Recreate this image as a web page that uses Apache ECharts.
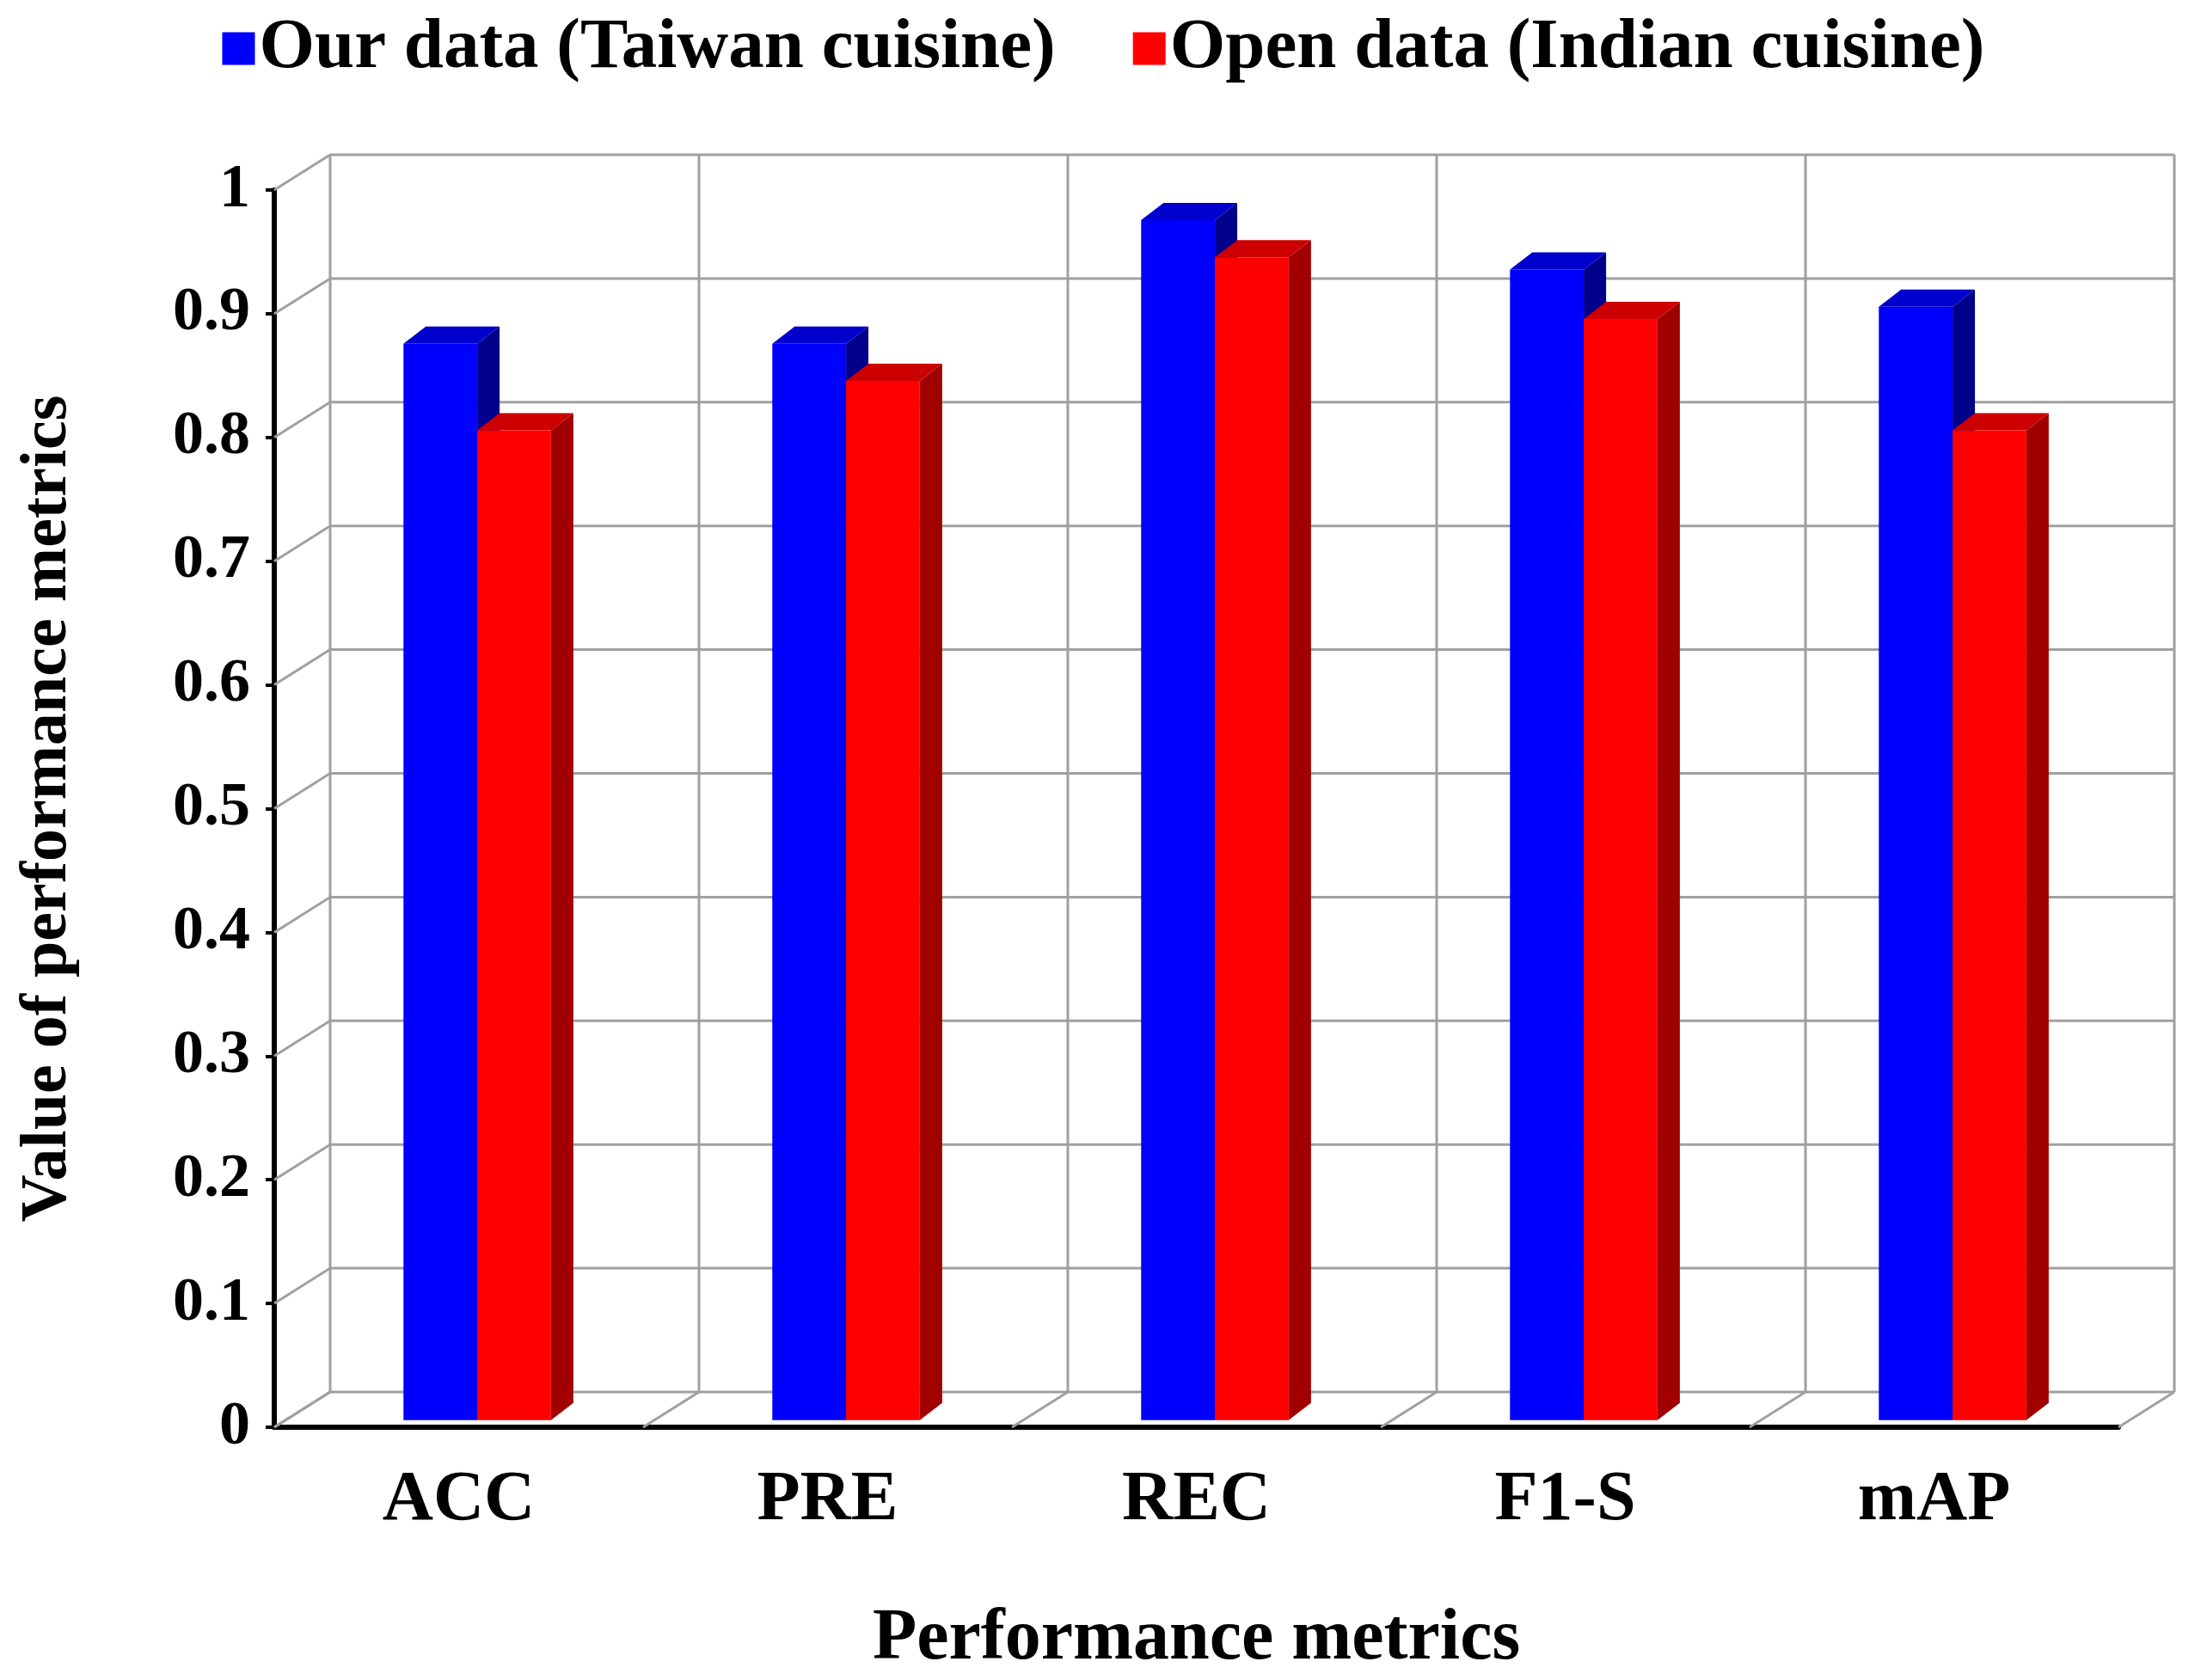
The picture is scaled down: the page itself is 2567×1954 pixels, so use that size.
<!DOCTYPE html>
<html><head><meta charset="utf-8">
<script src="https://cdn.jsdelivr.net/npm/echarts@6/dist/echarts.min.js"></script>
<style>html,body{margin:0;background:#fff}#c{width:2567px;height:1954px}</style>
</head><body><div id="c"></div>
<script>
const categories = ['ACC','PRE','REC','F1-S','mAP'];
const ourData = [0.87, 0.87, 0.97, 0.93, 0.90];
const openData = [0.80, 0.84, 0.94, 0.89, 0.80];
const ticks = [0,0.1,0.2,0.3,0.4,0.5,0.6,0.7,0.8,0.9,1];

const DX = 65, DY = -41;
const BDX = 26, BDY = -20;
const SX = 0.2*DX, SY = 0.2*DY;
const font = '"Liberation Serif","Times New Roman",serif';

function frame(api){
  const p0 = api.coord([0,0]);
  const bw = api.size([1,0])[0];
  return {bw, xL: p0[0]-bw/2, y0: p0[1]};
}

function gridItem(params, api){
  const v = api.value(0);
  const f = frame(api);
  const y = api.coord([0,v])[1];
  const xR = f.xL + 5*f.bw;
  const st = {stroke:'#a0a0a0', lineWidth:3};
  const ch = [
    {type:'line', shape:{x1:f.xL+DX,y1:y+DY,x2:xR+DX,y2:y+DY}, style:st},
    {type:'line', shape:{x1:f.xL,y1:y,x2:f.xL+DX,y2:y+DY}, style:st}
  ];
  if (params.dataIndex === 0) {
    const yt = api.coord([0,1])[1];
    for (let j=0;j<=5;j++){
      const x = f.xL + j*f.bw;
      ch.push({type:'line', shape:{x1:x+DX,y1:f.y0+DY,x2:x+DX,y2:yt+DY}, style:st});
      ch.push({type:'line', shape:{x1:x,y1:f.y0,x2:x+DX,y2:f.y0+DY}, style:st});
    }
  }
  return {type:'group', children:ch};
}

function barMaker(startFrac, front, top, side){
  return function(params, api){
    const i = api.value(0), v = api.value(1);
    const f = frame(api);
    const x1 = f.xL + i*f.bw + startFrac*f.bw + SX;
    const x2 = x1 + 0.2*f.bw;
    const yb = f.y0 + SY;
    const yt = api.coord([i,v])[1] + SY;
    return {type:'group', children:[
      {type:'polygon', shape:{points:[[x2,yb],[x2+BDX,yb+BDY],[x2+BDX,yt+BDY],[x2,yt]]}, style:{fill:side}},
      {type:'polygon', shape:{points:[[x1,yt],[x2,yt],[x2+BDX,yt+BDY],[x1+BDX,yt+BDY]]}, style:{fill:top}},
      {type:'rect', shape:{x:x1,y:yt,width:x2-x1,height:yb-yt}, style:{fill:front}}
    ]};
  };
}

const chart = echarts.init(document.getElementById('c'));
chart.setOption({
  animation:false,
  legend:{top:10, left:'center', itemWidth:38, itemHeight:38, itemGap:90,
    textStyle:{fontFamily:font, fontWeight:'bold', fontSize:83, color:'#000'},
    data:[{name:'Our data (Taiwan cuisine)', icon:'rect', itemStyle:{color:'#0000ff'}},
          {name:'Open data (Indian cuisine)', icon:'rect', itemStyle:{color:'#ff0000'}}]},
  grid:{left:319, right:103, top:221, bottom:287},
  xAxis:{type:'category', data:categories, boundaryGap:true,
    axisLine:{lineStyle:{color:'#000', width:6}}, axisTick:{show:false},
    axisLabel:{fontFamily:font, fontWeight:'bold', fontSize:82, color:'#000', margin:45},
    name:'Performance metrics', nameLocation:'middle', nameGap:205,
    nameTextStyle:{fontFamily:font, fontWeight:'bold', fontSize:84, color:'#000'}},
  yAxis:{type:'value', min:0, max:1, interval:0.1,
    axisLine:{show:true, lineStyle:{color:'#000', width:6}}, axisTick:{show:true, length:10, lineStyle:{color:'#000',width:4}},
    splitLine:{show:false},
    axisLabel:{fontFamily:font, fontWeight:'bold', fontSize:72, color:'#000', margin:28,
      formatter:v=>String(Math.round(v*10)/10)},
    name:'Value of performance metrics', nameLocation:'middle', nameGap:225,
    nameTextStyle:{fontFamily:font, fontWeight:'bold', fontSize:76, color:'#000'}},
  series:[
    {type:'custom', name:'grid', renderItem:gridItem, data:ticks.map(t=>[t]), encode:{y:0}, silent:true, z:1},
    {type:'custom', name:'Our data (Taiwan cuisine)', renderItem:barMaker(0.32,'#0000ff','#0000cc','#00008b'),
      data:ourData.map((v,i)=>[i,v]), encode:{x:0,y:1}, itemStyle:{color:'#0000ff'}, z:3},
    {type:'custom', name:'Open data (Indian cuisine)', renderItem:barMaker(0.52,'#ff0000','#cc0000','#a00000'),
      data:openData.map((v,i)=>[i,v]), encode:{x:0,y:1}, itemStyle:{color:'#ff0000'}, z:3}
  ]
});
</script></body></html>
